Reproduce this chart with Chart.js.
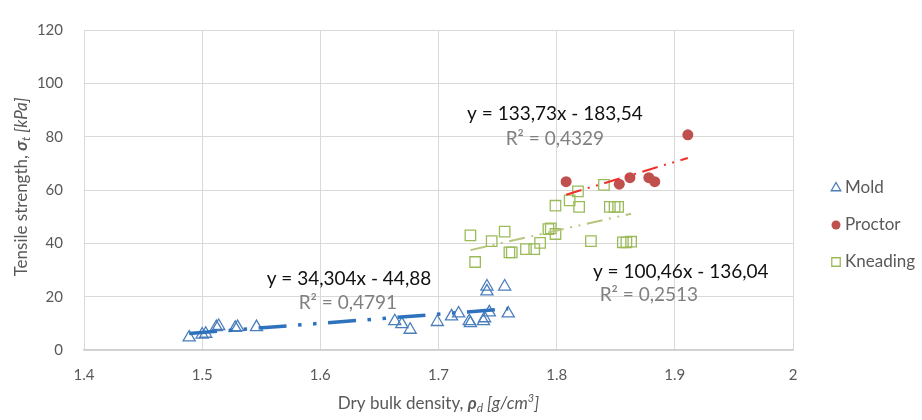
<!DOCTYPE html>
<html>
<head>
<meta charset="utf-8">
<script src="https://cdn.jsdelivr.net/npm/chart.js@4/dist/chart.umd.min.js"></script>
<style>
  html, body { margin: 0; padding: 0; background: #ffffff; }
  #wrap { width: 922px; height: 420px; position: relative; }
</style>
</head>
<body>
<div id="wrap"><canvas id="c" width="922" height="420"></canvas></div>
<script>
// ---- data ----
const seriesNames = ['Mold', 'Proctor', 'Kneading'];

const moldX = [1.489, 1.500, 1.503, 1.512, 1.514, 1.528, 1.530, 1.546, 1.663, 1.669, 1.676, 1.699,
               1.711, 1.717, 1.726, 1.727, 1.738, 1.739, 1.741, 1.741, 1.743, 1.756, 1.759];
const moldY = [4.7, 5.8, 6.1, 8.6, 9.0, 8.3, 8.6, 8.6, 10.8, 9.7, 7.6, 10.5,
               12.6, 13.7, 10.8, 10.1, 10.8, 11.9, 23.8, 22.0, 14.1, 23.8, 13.7];

const proctorX = [1.808, 1.853, 1.862, 1.878, 1.883, 1.911];
const proctorY = [63.1, 62.2, 64.6, 64.6, 63.1, 80.7];

const kneadX = [1.727, 1.731, 1.745, 1.756, 1.760, 1.762, 1.774, 1.781, 1.786, 1.793, 1.795, 1.799,
                1.799, 1.811, 1.818, 1.819, 1.829, 1.840, 1.845, 1.849, 1.852, 1.856, 1.859, 1.863];
const kneadY = [43.0, 33.0, 40.8, 44.4, 36.6, 36.6, 37.8, 37.8, 40.2, 45.3, 45.6, 43.5,
                54.1, 56.1, 59.5, 53.7, 40.8, 61.9, 53.7, 53.7, 53.7, 40.4, 40.4, 40.6];

// linear fits: y = slope * x + intercept
const slopes = [34.304, 133.73, 100.46];
const intercepts = [-44.88, -183.54, -136.04];
const rSquared = [0.4791, 0.4329, 0.2513];

const xTicks = [1.4, 1.5, 1.6, 1.7, 1.8, 1.9, 2];
const yTicks = [0, 20, 40, 60, 80, 100, 120];

// ---- styling ----
const FONT = 'Lato, "Noto Sans", sans-serif';
const styles = [
  { pointStyle: 'triangle', radius: 7,   legendR: 5.5, stroke: '#4a7ebb', fill: 'rgba(0,0,0,0)', bw: 1.3,
    trend: '#2e72bd', trendW: 3.5 },
  { pointStyle: 'circle',   radius: 5.5, legendR: 4.5, stroke: '#c0504d', fill: '#c0504d', bw: 0,
    trend: '#f0302a', trendW: 2 },
  { pointStyle: 'rect',     radius: 7.4, legendR: 6,   stroke: '#9bbb59', fill: 'rgba(0,0,0,0)', bw: 1.3,
    trend: '#b7c67f', trendW: 2 }
];
// where each fit's equation / R² is centred (axis units)
const labelAnchors = [
  { eq: { x: 1.6242, y: 26.7 }, r2: { x: 1.6233, y: 17.7 } },
  { eq: { x: 1.7985, y: 88.6 }, r2: { x: 1.7985, y: 79.3 } },
  { eq: { x: 1.9050, y: 29.2 }, r2: { x: 1.8780, y: 20.5 } }
];

const xs = [moldX, proctorX, kneadX];
const ys = [moldY, proctorY, kneadY];
const pts = (X, Y) => X.map((x, i) => ({ x, y: Y[i] }));
const dec = v => String(v).replace('.', ',');

function dashFor(w) { return [8 * w, 3.3 * w, w, 3.3 * w, w, 3.3 * w]; }

const datasets = [];
// fitted lines first so they are painted over the markers
seriesNames.forEach((name, i) => {
  const x0 = Math.min(...xs[i]), x1 = Math.max(...xs[i]);
  datasets.push({
    label: name + ' fit',
    data: [{ x: x0, y: slopes[i] * x0 + intercepts[i] }, { x: x1, y: slopes[i] * x1 + intercepts[i] }],
    showLine: true, pointRadius: 0, pointHoverRadius: 0, fill: false,
    borderColor: styles[i].trend, borderWidth: styles[i].trendW,
    borderDash: dashFor(styles[i].trendW), order: 0
  });
});
seriesNames.forEach((name, i) => {
  datasets.push({
    label: name,
    data: pts(xs[i], ys[i]),
    pointStyle: styles[i].pointStyle, pointRadius: styles[i].radius, pointHoverRadius: styles[i].radius,
    borderColor: styles[i].stroke, backgroundColor: styles[i].fill, pointBorderWidth: styles[i].bw,
    borderWidth: styles[i].bw, showLine: false, order: 1
  });
});

// rich text helper: segments with their own font, colour and baseline shift
function drawRich(ctx, segs, cx, cy) {
  let total = 0;
  segs.forEach(s => { ctx.font = s.font; s.w = ctx.measureText(s.t).width; total += s.w; });
  let x = cx - total / 2;
  ctx.textBaseline = 'middle';
  ctx.textAlign = 'left';
  segs.forEach(s => { ctx.font = s.font; ctx.fillText(s.t, x, cy + (s.dy || 0)); x += s.w; });
}

const axisTitles = {
  id: 'axisTitles',
  afterDraw(chart) {
    const ctx = chart.ctx, a = chart.chartArea;
    ctx.save();
    ctx.fillStyle = '#595959';
    drawRich(ctx, [
      { t: 'Dry bulk density, ', font: '17px ' + FONT },
      { t: 'ρ', font: 'italic bold 17px ' + FONT },
      { t: 'd', font: 'italic 12px ' + FONT, dy: 4 },
      { t: ' [g/cm', font: 'italic 17px ' + FONT },
      { t: '3', font: 'italic 11px ' + FONT, dy: -6 },
      { t: ']', font: 'italic 17px ' + FONT }
    ], (a.left + a.right) / 2, 404);
    ctx.translate(22, (a.top + a.bottom) / 2 - 3);
    ctx.rotate(-Math.PI / 2);
    drawRich(ctx, [
      { t: 'Tensile strength, ', font: '17px ' + FONT },
      { t: 'σ', font: 'italic bold 17px ' + FONT },
      { t: 't', font: 'italic 12px ' + FONT, dy: 4 },
      { t: ' [kPa]', font: 'italic 17px ' + FONT }
    ], 0, 0);
    ctx.restore();
  }
};

const fitLabels = {
  id: 'fitLabels',
  afterDatasetsDraw(chart) {
    const ctx = chart.ctx, sx = chart.scales.x, sy = chart.scales.y;
    ctx.save();
    ctx.textAlign = 'center';
    ctx.textBaseline = 'middle';
    ctx.font = '19px ' + FONT;
    seriesNames.forEach((n, i) => {
      const eq = 'y = ' + dec(slopes[i]) + 'x - ' + dec(-intercepts[i]);
      const r2 = 'R² = ' + rSquared[i].toFixed(4).replace('.', ',');
      const A = labelAnchors[i];
      ctx.fillStyle = '#111111';
      ctx.fillText(eq, sx.getPixelForValue(A.eq.x), sy.getPixelForValue(A.eq.y));
      ctx.fillStyle = '#808080';
      ctx.fillText(r2, sx.getPixelForValue(A.r2.x), sy.getPixelForValue(A.r2.y));
    });
    ctx.restore();
  }
};

const sideLegend = {
  id: 'sideLegend',
  afterDraw(chart) {
    const ctx = chart.ctx, a = chart.chartArea;
    const mx = a.right + 43, midY = (a.top + a.bottom) / 2 + 35, gap = 37;
    ctx.save();
    seriesNames.forEach((n, i) => {
      const y = midY + (i - 1) * gap, s = styles[i];
      ctx.fillStyle = s.fill;
      ctx.strokeStyle = s.stroke;
      ctx.lineWidth = s.bw || 1;
      Chart.helpers.drawPoint(ctx, { pointStyle: s.pointStyle, radius: s.legendR, rotation: 0, borderWidth: s.bw }, mx, y);
      ctx.fillStyle = '#595959';
      ctx.font = '17px ' + FONT;
      ctx.textAlign = 'left';
      ctx.textBaseline = 'middle';
      ctx.fillText(n, mx + 9, y);
    });
    ctx.restore();
  }
};

new Chart(document.getElementById('c'), {
  type: 'scatter',
  data: { datasets },
  plugins: [fitLabels, axisTitles, sideLegend],
  options: {
    responsive: false,
    devicePixelRatio: 1,
    animation: false,
    layout: { padding: { top: 17, right: 129, left: 0, bottom: 0 } },
    plugins: { legend: { display: false }, tooltip: { enabled: false } },
    scales: {
      x: {
        type: 'linear', min: 1.4, max: 2,
        afterBuildTicks: s => { s.ticks = xTicks.map(v => ({ value: v })); },
        afterFit: s => { s.height = 70; },
        ticks: { callback: v => String(+v.toFixed(1)), color: '#595959', font: { family: FONT, size: 15 }, padding: 16 },
        grid: { color: '#d9d9d9', lineWidth: 1, drawTicks: false },
        border: { color: '#cfcfcf', width: 1.5 }
      },
      y: {
        type: 'linear', min: 0, max: 120,
        afterBuildTicks: s => { s.ticks = yTicks.map(v => ({ value: v })); },
        afterFit: s => { s.width = 84; },
        ticks: { color: '#595959', font: { family: FONT, size: 15 }, padding: 21 },
        grid: { color: '#d9d9d9', lineWidth: 1, drawTicks: false },
        border: { display: false }
      }
    }
  }
});
</script>
</body>
</html>
